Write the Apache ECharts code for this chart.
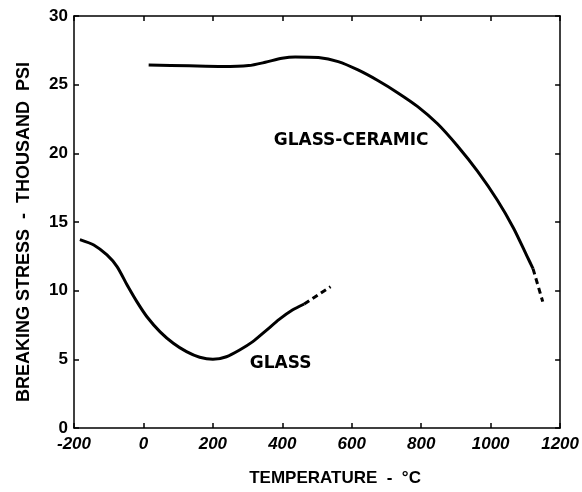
<!DOCTYPE html>
<html>
<head>
<meta charset="utf-8">
<script src="https://cdn.jsdelivr.net/npm/echarts@6/dist/echarts.min.js"></script>
<style>html,body{margin:0;padding:0;background:#fff;}#c{width:582px;height:492px;}</style>
</head>
<body>
<div id="c"></div>
<script>
// Data
var xTicks = [-200, 0, 200, 400, 600, 800, 1000, 1200];
var yTicks = [0, 5, 10, 15, 20, 25, 30];
var glassX = [-183, -143, -105, -76, -47, -19, 10, 48, 86, 124, 162, 200, 239, 277, 315, 353, 391, 429, 463];
var glassY = [13.72, 13.33, 12.6, 11.75, 10.41, 9.2, 8.1, 7.0, 6.17, 5.56, 5.15, 5.0, 5.19, 5.68, 6.29, 7.09, 7.91, 8.59, 9.03];
var glassDashX = [463, 539];
var glassDashY = [9.03, 10.29];
var ceramicX = [15, 132, 227, 303, 351, 399, 437, 504, 561, 618, 675, 733, 790, 847, 904, 962, 1019, 1066, 1105, 1122];
var ceramicY = [26.44, 26.37, 26.32, 26.39, 26.63, 26.92, 27.02, 26.98, 26.68, 26.07, 25.3, 24.4, 23.4, 22.15, 20.55, 18.7, 16.6, 14.55, 12.5, 11.6];
var ceramicDashX = [1122, 1150];
var ceramicDashY = [11.6, 9.2];
var labels = ['GLASS-CERAMIC', 'GLASS'];
var labelX = [598, 395];
var labelY = [20.9, 4.66];

function pairs(xs, ys) { return xs.map(function (x, i) { return [x, ys[i]]; }); }

var font = 'Liberation Sans';
var ink = '#000';
var chart = echarts.init(document.getElementById('c'), null, {renderer: 'canvas'});
var lineCommon = {color: ink, width: 3};
var tickCommon = {show: true, inside: true, length: 5, lineStyle: {color: ink, width: 1.5}};
var frameLine = {show: true, onZero: false, lineStyle: {color: ink, width: 1.5}};

chart.setOption({
  backgroundColor: '#fff',
  animation: false,
  grid: {left: 74, right: 19, top: 16, bottom: 64, containLabel: false},
  xAxis: [{
    type: 'value', min: -200, max: 1200, interval: 200, position: 'bottom',
    name: 'TEMPERATURE  -  °C', nameLocation: 'middle', nameGap: 42,
    nameTextStyle: {fontFamily: font, fontWeight: 'bold', fontSize: 17, color: ink, padding: [0, 0, 0, 36]},
    axisLine: frameLine,
    axisTick: tickCommon,
    splitLine: {show: false},
    axisLabel: {fontFamily: font, fontWeight: 'bold', fontStyle: 'italic', fontSize: 17, color: ink, margin: 8,
      formatter: function (v) { return xTicks.indexOf(v) >= 0 ? String(v) : ''; }}
  }, {
    type: 'value', min: -200, max: 1200, interval: 200, position: 'top',
    axisLine: frameLine,
    axisTick: tickCommon, axisLabel: {show: false}, splitLine: {show: false}
  }],
  yAxis: [{
    type: 'value', min: 0, max: 30, interval: 5, position: 'left',
    name: 'BREAKING STRESS  -  THOUSAND  PSI', nameLocation: 'middle', nameGap: 41,
    nameTextStyle: {fontFamily: font, fontWeight: 'bold', fontSize: 18, color: ink, padding: [0, 20, 0, 0]},
    axisLine: frameLine,
    axisTick: tickCommon,
    splitLine: {show: false},
    axisLabel: {fontFamily: font, fontWeight: 'bold', fontSize: 17, color: ink, margin: 6,
      formatter: function (v) { return yTicks.indexOf(v) >= 0 ? String(v) : ''; }}
  }, {
    type: 'value', min: 0, max: 30, interval: 5, position: 'right',
    axisLine: frameLine,
    axisTick: tickCommon, axisLabel: {show: false}, splitLine: {show: false}
  }],
  series: [
    {name: 'Glass', type: 'line', smooth: 0.25, symbol: 'none', data: pairs(glassX, glassY), lineStyle: lineCommon},
    {name: 'Glass (extrapolated)', type: 'line', symbol: 'none', data: pairs(glassDashX, glassDashY),
      lineStyle: {color: ink, width: 3, type: [6, 4]}},
    {name: 'Glass-ceramic', type: 'line', smooth: 0.25, symbol: 'none', data: pairs(ceramicX, ceramicY), lineStyle: lineCommon},
    {name: 'Glass-ceramic (extrapolated)', type: 'line', symbol: 'none', data: pairs(ceramicDashX, ceramicDashY),
      lineStyle: {color: ink, width: 3, type: [6, 4]}},
    {name: 'Labels', type: 'scatter', symbol: 'circle', symbolSize: 1, silent: true,
      itemStyle: {color: 'rgba(0,0,0,0)'},
      data: labels.map(function (t, i) { return {value: [labelX[i], labelY[i]], name: t}; }),
      label: {show: true, position: 'inside', formatter: '{b}', fontFamily: 'DejaVu Sans', fontWeight: 'bold', fontSize: 17,
        color: ink, opacity: 1, textBorderWidth: 0}}
  ]
});
</script>
</body>
</html>
